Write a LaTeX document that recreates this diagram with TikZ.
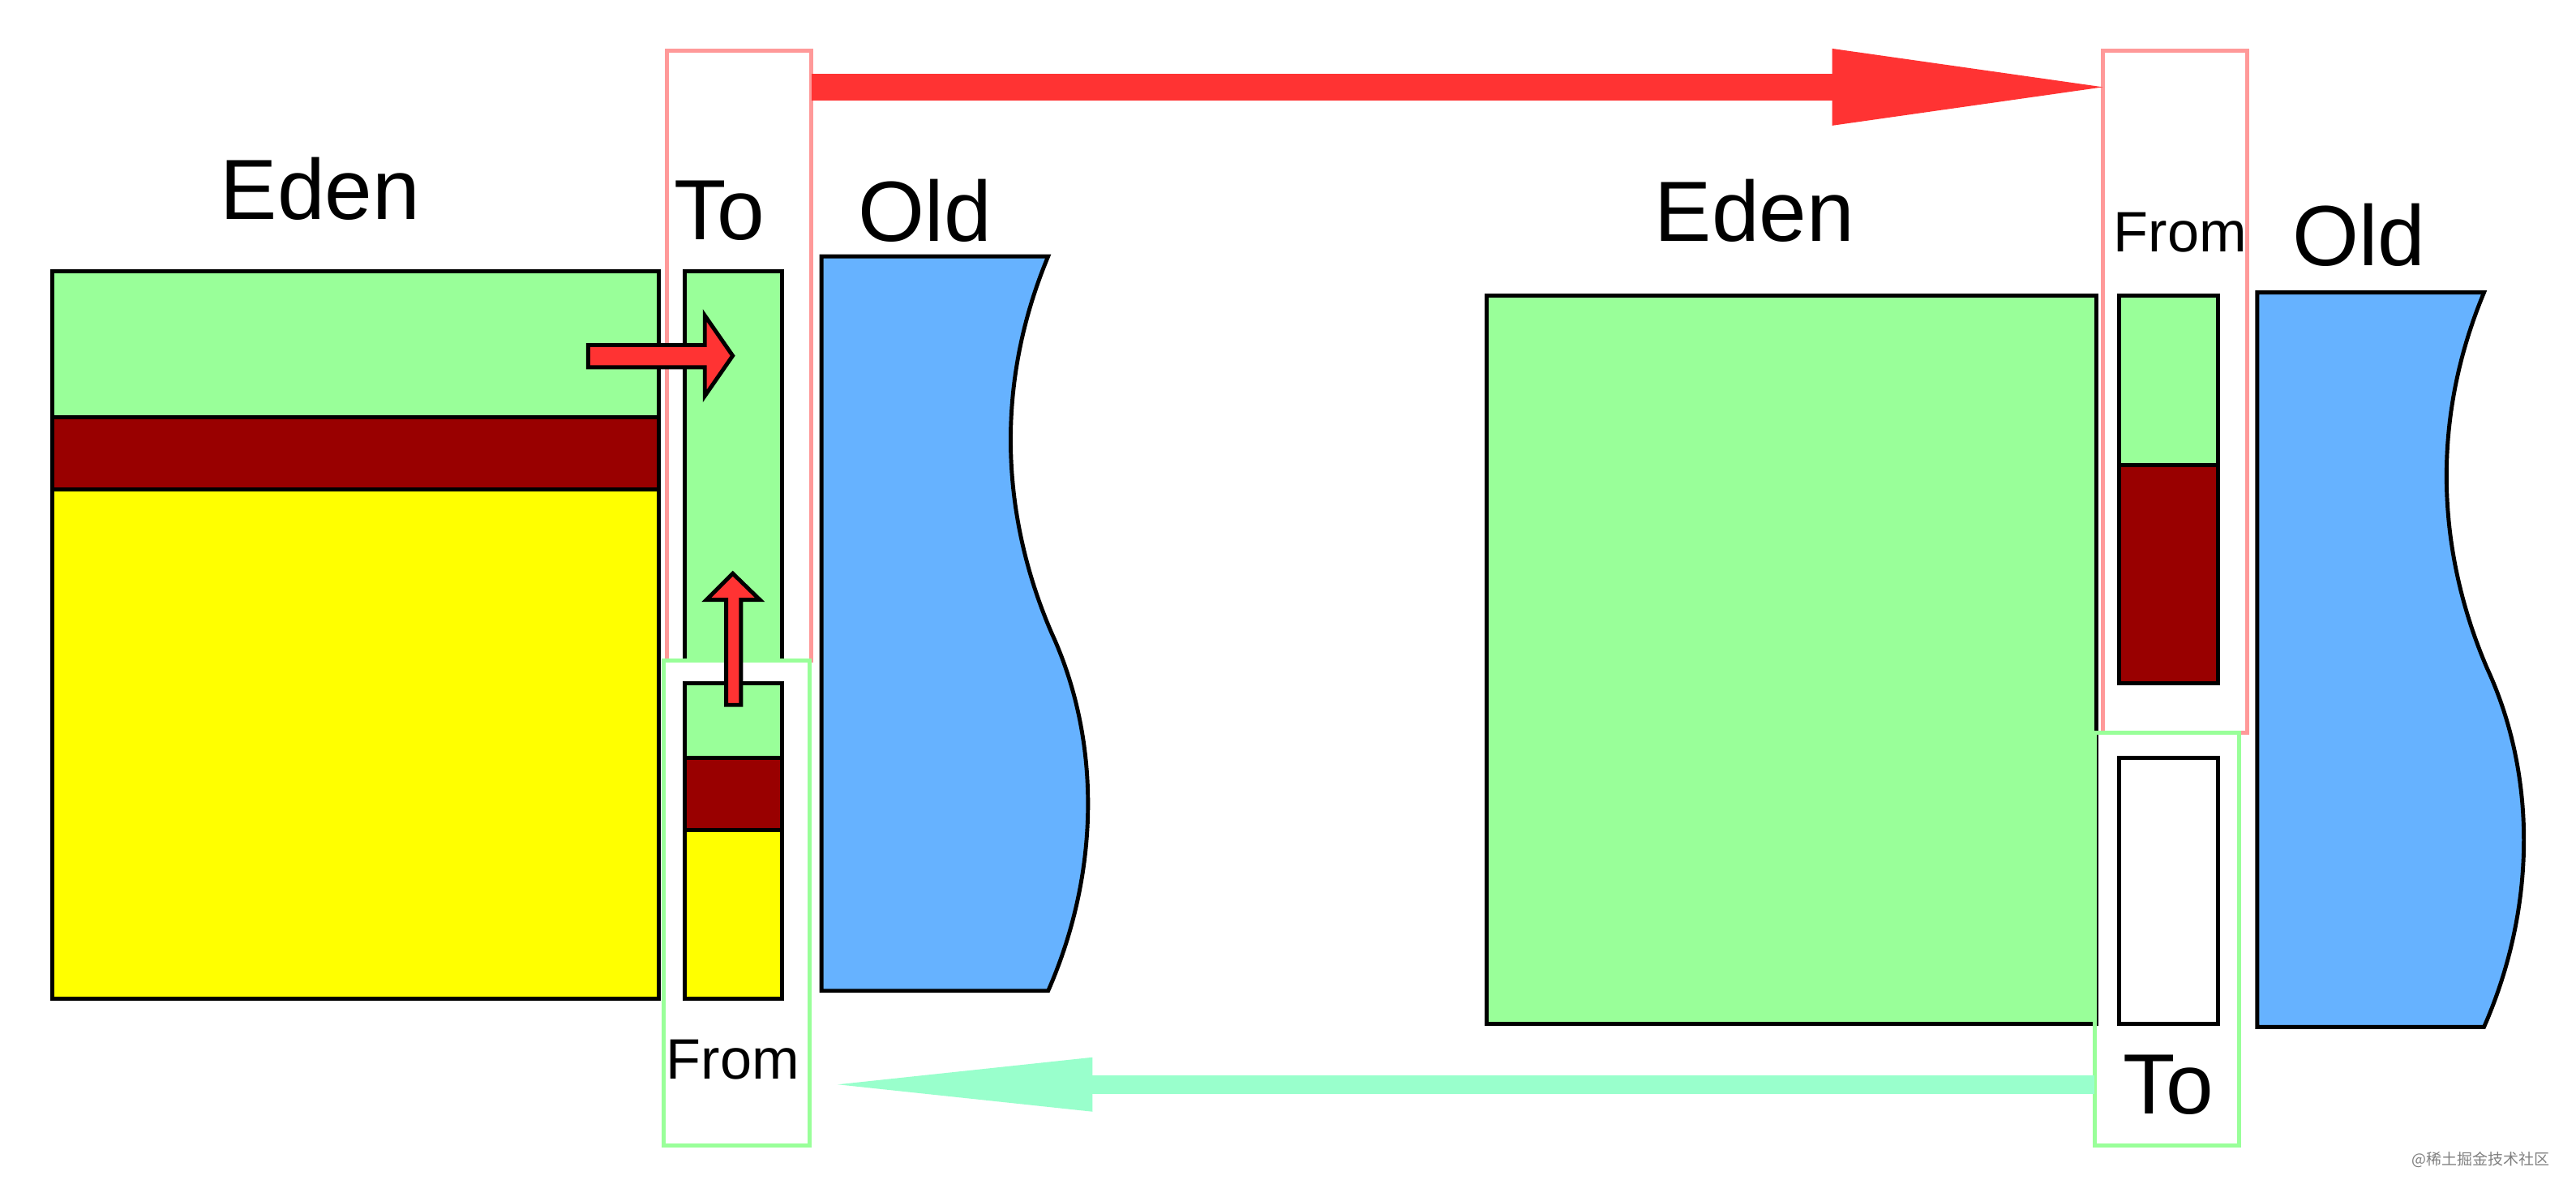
\documentclass[tikz,border=0pt]{standalone}
\usepackage{fontspec}
\setmainfont{Liberation Sans}
\newfontfamily\cjkfont{Noto Sans CJK SC}
\usetikzlibrary{arrows.meta,fit}
\definecolor{livegreen}{RGB}{153,255,153}
\definecolor{deadred}{RGB}{153,0,0}
\definecolor{liveyellow}{RGB}{255,255,0}
\definecolor{oldblue}{RGB}{102,178,255}
\definecolor{copyred}{RGB}{255,51,51}
\definecolor{framepink}{RGB}{255,153,153}
\definecolor{framegreen}{RGB}{153,255,153}
\definecolor{swapmint}{RGB}{153,255,204}

\begin{document}
\begin{tikzpicture}[x=0.02026cm, y=-0.02026cm,
  area/.style={draw, line width=1.4pt, inner sep=0pt, outer sep=0pt},
  frame/.style={draw, line width=1.4pt, inner sep=0pt, outer sep=0pt},
  big/.style={font=\fontsize{30}{36}\selectfont, inner sep=0pt},
  small/.style={font=\fontsize{20}{24}\selectfont, inner sep=0pt},
  blockarr/.style={draw, line width=1.4pt, fill=copyred, line join=miter},
  bigarr/.style={line cap=butt}
]
\useasboundingbox (0,0) rectangle (1568,728);

% before minor gc
\node[area, fill=livegreen, fit={(32,165) (401,254)}] (edenlive) {};
\node[area, fill=deadred, fit={(32,254) (401,298)}] (edendead) {};
\node[area, fill=liveyellow, fit={(32,298) (401,608)}] (edenold) {};
\node[frame, draw=framepink, fit={(406,31) (494,402)}] (tobox) {};
\node[area, fill=livegreen, fit={(417,165) (476,402)}] (tospace) {};
\node[frame, draw=framegreen, fit={(404,402) (493,697)}] (frombox) {};
\node[area, fill=livegreen, fit={(417,416) (476,461)}] (fromlive) {};
\node[area, fill=deadred, fit={(417,461) (476,505)}] (fromdead) {};
\node[area, fill=liveyellow, fit={(417,505) (476,608)}] (fromold) {};
\filldraw[fill=oldblue, line width=1.4pt] (500,156) -- (638,156)
  .. controls (603,240) and (612,320) .. (640,385)
  .. controls (670,450) and (670,530) .. (638,603) -- (500,603) -- cycle;

\node[big] (edenleft) at (195,115) {Eden};
\node[big] (toleft) at (438,128) {To};
\node[big] (oldleft) at (563,128) {Old};
\node[small] (fromleft) at (446,645) {From};

\draw[blockarr] (358,210) -- (429,210) -- (429,192) -- (446,216.5) -- (429,241)
  -- (429,223.5) -- (358,223.5) -- cycle;
\draw[blockarr] (442,429) -- (442,365) -- (430,365) -- (446,349) -- (462.5,365)
  -- (451,365) -- (451,429) -- cycle;

% after minor gc
\node[area, fill=livegreen, fit={(905,180) (1276,623)}] (edenempty) {};
\node[frame, draw=framepink, fit={(1280,31) (1368,446)}] (fromboxb) {};
\node[area, fill=livegreen, fit={(1290,180) (1350,283)}] (fromliveb) {};
\node[area, fill=deadred, fit={(1290,283) (1350,416)}] (fromdeadb) {};
\node[frame, draw=framegreen, fit={(1275,446) (1363,697)}] (toboxb) {};
\node[area, fill=white, fit={(1290,461) (1350,623)}] (tospaceb) {};
\begin{scope}[shift={(874,22)}]
\filldraw[fill=oldblue, line width=1.4pt] (500,156) -- (638,156)
  .. controls (603,240) and (612,320) .. (640,385)
  .. controls (670,450) and (670,530) .. (638,603) -- (500,603) -- cycle;
\end{scope}

\node[big] (edenright) at (1068,128) {Eden};
\node[small] (fromright) at (1327,141.5) {From};
\node[big] (oldright) at (1436,143) {Old};
\node[big] (toright) at (1320,660) {To};

% swap of the two survivor spaces
\coordinate (backtip) at (510,660);
\draw[bigarr, line width=3.3mm, copyred,
  -{Triangle[length=33.4mm, width=9.5mm, line width=0pt]}]
  (tobox.east |- 0,53) -- (fromboxb.west |- 0,53);
\draw[bigarr, line width=2.3mm, swapmint,
  -{Triangle[length=31.4mm, width=6.7mm, line width=0pt]}]
  (toboxb.west |- 0,660) -- (backtip);

\node[font=\cjkfont\fontsize{5.4}{6}\selectfont, text=gray, inner sep=0pt] (mark) at (1510,706) {@稀土掘金技术社区};
\end{tikzpicture}
\end{document}
